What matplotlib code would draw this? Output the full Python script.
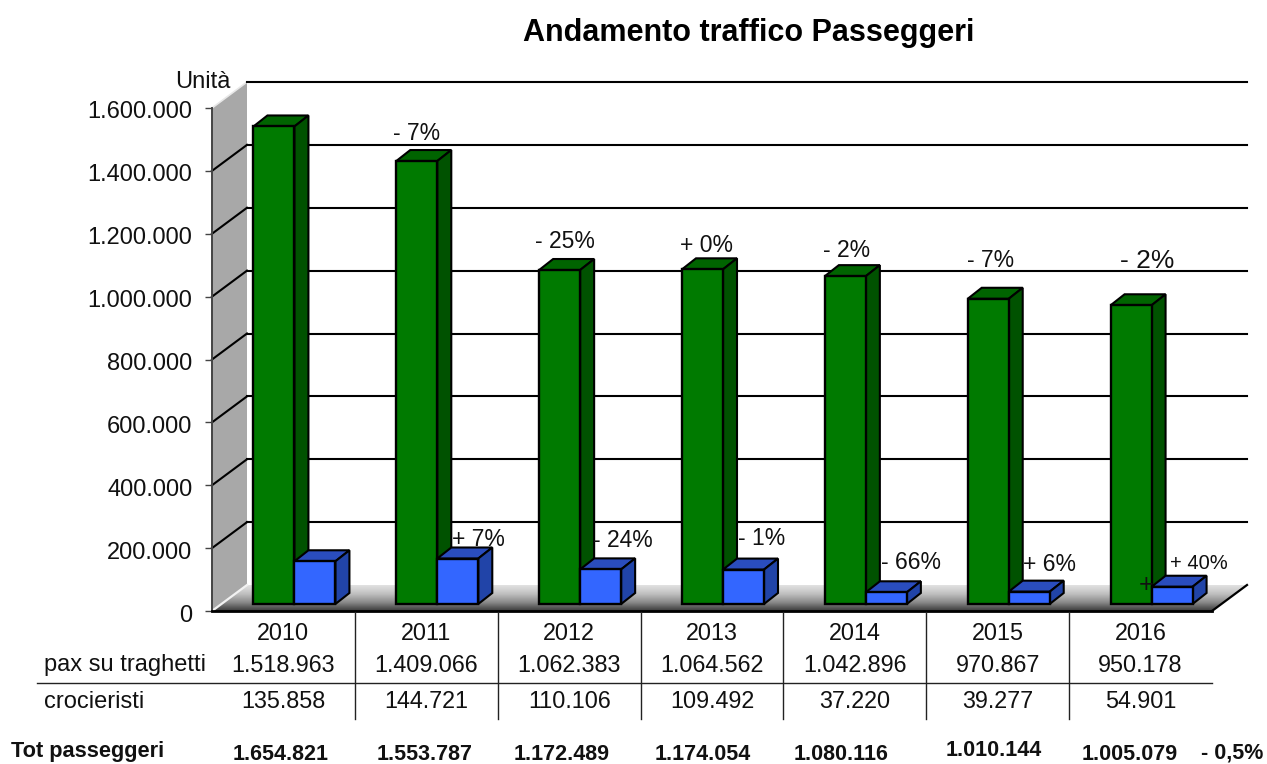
import numpy as np
import matplotlib
matplotlib.use("Agg")
import matplotlib.pyplot as plt
from matplotlib.colors import LinearSegmentedColormap
from matplotlib.patches import Polygon
from matplotlib.ticker import FuncFormatter
from matplotlib.transforms import Affine2D

plt.rcParams['font.family'] = ['Liberation Sans', 'DejaVu Sans']

years = [2010, 2011, 2012, 2013, 2014, 2015, 2016]
traghetti = [1518963, 1409066, 1062383, 1064562, 1042896, 970867, 950178]
crocieristi = [135858, 144721, 110106, 109492, 37220, 39277, 54901]
totali = [1654821, 1553787, 1172489, 1174054, 1080116, 1010144, 1005079]
var_traghetti = [None, "- 7%", "- 25%", "+ 0%", "- 2%", "- 7%", "- 2%"]
var_crocieristi = [None, "+ 7%", "- 24%", "- 1%", "- 66%", "+ 6%", "+ 40%"]
var_totale = "- 0,5%"
yticks = [0, 200000, 400000, 600000, 800000, 1000000, 1200000, 1400000, 1600000]

W, H = 1267, 764
LEFT, RIGHT, ZERO, TOP = 212, 1212, 611, 108
GREEN = ("#007A00", "#006400", "#005200")
BLUE = ("#3366FF", "#2A4DBE", "#2144A8")

# label placement by hand, pixels from the bar anchor (the original was hand placed too)
off_traghetti = [None, (-10, 35), (-4, 36), (-6, 31), (-8, 33), (-7, 45), (7, 51)]
off_crocieristi = [None, (52, 26), (54, 36), (50, 38), (56, 37), (52, 34), (58, 30)]
size_traghetti = [None, 16.5, 16.5, 16.5, 16.5, 16.5, 19]
size_crocieristi = [None, 16.5, 16.5, 16.5, 16.5, 16.5, 14.5]
tot_dx = [-3, -2, -8, -9, -14, -4, -11]
tot_y = [754, 755, 754, 755, 755, 750, 754]

fig = plt.figure(figsize=(W / 100, H / 100), dpi=100, facecolor="white")
ax = fig.add_axes([LEFT / W, 1 - ZERO / H, (RIGHT - LEFT) / W, (ZERO - TOP) / H])
ax.set_xlim(0, 7)
ax.set_ylim(0, 1600000)
ax.patch.set_visible(False)

# pixel sizes converted to data units
xpx = 7 / (RIGHT - LEFT)
ypx = 1600000 / (ZERO - TOP)


def ftext(px, py, s, **kw):
    kw.setdefault("ha", "center")
    kw.setdefault("va", "center")
    kw.setdefault("color", "#111111")
    fig.text(px / W, 1 - py / H, s, **kw)


def fline(xs, ys, **kw):
    fig.add_artist(plt.Line2D([x / W for x in xs], [1 - y / H for y in ys], color="#222222", lw=1.0, **kw))


def dotted(v):
    return f"{v:,}".replace(",", ".")


# walls and floor
bx, by = 35 * xpx, 26 * ypx
wall = Polygon([(0, 0), (bx, by), (bx, 1600000 + by), (0, 1600000)], closed=True, fc="#A8A8A8", ec="none", clip_on=False, zorder=1)
ax.add_patch(wall)
ax.plot([0, bx], [0, by], color="#F2F2F2", lw=1.6, clip_on=False, zorder=1.5)
ax.plot([0, bx], [1600000, 1600000 + by], color="#E8E8E8", lw=1.2, clip_on=False, zorder=1.5)

floor = Polygon([(0, 0), (7, 0), (7 + bx, by), (bx, by)], closed=True, fc="none", ec="none", clip_on=False, transform=ax.transData)
ax.add_patch(floor)
cmap = LinearSegmentedColormap.from_list("floor", ["#3a3a3a", "#8a8a8a", "#c0c0c0", "#e2e2e2"])
grad = ax.imshow(np.linspace(0, 1, 64)[:, None], extent=(0, 7 + bx, 0, by), origin="lower", cmap=cmap, aspect="auto", zorder=1.2)
grad.set_clip_box(fig.bbox)
grad.set_clip_path(floor)
ax.set_xlim(0, 7)
ax.set_ylim(0, 1600000)

# grid: slanted on the wall, straight on the back
for t in yticks[1:]:
    if t < 1600000:
        ax.plot([0, bx], [t, t + by], color="black", lw=1.5, clip_on=False, zorder=2)
    ax.plot([bx, 7 + bx], [t + by, t + by], color="black", lw=1.5, clip_on=False, zorder=2)

ax.plot([7, 7 + bx], [0, by], color="black", lw=1.6, clip_on=False, zorder=2)


def bar3d(x0, v, colors, z):
    w = 41 * xpx
    dx, dy = 14 * xpx, 11 * ypx
    base = 7 * ypx
    ax.bar(x0, v, w, bottom=base, align="edge", color=colors[0], edgecolor="black", linewidth=1.7, clip_on=False, zorder=z + 0.2)
    ax.add_patch(Polygon([(x0, base + v), (x0 + w, base + v), (x0 + w + dx, base + v + dy), (x0 + dx, base + v + dy)],
                         closed=True, fc=colors[1], ec="black", lw=1.5, clip_on=False, zorder=z))
    ax.add_patch(Polygon([(x0 + w, base), (x0 + w + dx, base + dy), (x0 + w + dx, base + v + dy), (x0 + w, base + v)],
                         closed=True, fc=colors[2], ec="black", lw=1.5, clip_on=False, zorder=z))


for i in range(len(years)):
    centre = i + 0.5 + 11 * xpx
    bar3d(centre - 41 * xpx, traghetti[i], GREEN, 3)
    bar3d(centre, crocieristi[i], BLUE, 4)

# percent labels
for i in range(1, len(years)):
    ax.annotate(var_traghetti[i], (i + 0.5, traghetti[i]), xytext=off_traghetti[i], textcoords="offset pixels",
                ha="center", va="center", fontsize=size_traghetti[i], color="#111111", zorder=6, annotation_clip=False)
    ax.annotate(var_crocieristi[i], (i + 0.5, crocieristi[i]), xytext=off_crocieristi[i], textcoords="offset pixels",
                ha="center", va="center", fontsize=size_crocieristi[i], color="#111111", zorder=6, annotation_clip=False)
ax.annotate("+", (6.5, crocieristi[6]), xytext=(5, 9), textcoords="offset pixels",
            ha="center", va="center", fontsize=18, color="#111111", zorder=6, annotation_clip=False)

# axes
for s in ("top", "right"):
    ax.spines[s].set_visible(False)
ax.spines["left"].set_color("#444444")
ax.spines["left"].set_linewidth(1.4)
ax.spines["left"].set_zorder(5)
ax.spines["bottom"].set_color("black")
ax.spines["bottom"].set_linewidth(2.0)
ax.spines["bottom"].set_zorder(5)
ax.set_xticks([])
ax.set_yticks(yticks)
ax.yaxis.set_major_formatter(FuncFormatter(lambda v, pos: dotted(int(v))))
ax.tick_params(axis="y", length=5, width=1, color="#444444", pad=9, labelsize=17, labelcolor="#111111")
for lbl in ax.get_yticklabels():
    lbl.set_transform(lbl.get_transform() + Affine2D().translate(0, -2))

ftext(749, 33, "Andamento traffico Passeggeri", fontsize=22, fontweight="bold", color="black")
ftext(203, 82, "Unità", fontsize=17)

# table under the chart
for i in range(1, len(years)):
    x = LEFT + i * (RIGHT - LEFT) / 7
    fline([x, x], [612, 719])
fline([37, RIGHT], [683, 683])

ftext(44, 665, "pax su traghetti", fontsize=17, ha="left")
ftext(44, 702, "crocieristi", fontsize=17, ha="left")
ftext(11, 752, "Tot passeggeri", fontsize=15.7, ha="left", fontweight="bold")
for i, y in enumerate(years):
    x = LEFT + (i + 0.5) * (RIGHT - LEFT) / 7
    ftext(x, 634, str(y), fontsize=16.8)
    ftext(x, 665, dotted(traghetti[i]), fontsize=16.8)
    ftext(x, 701, dotted(crocieristi[i]), fontsize=16.8)
    ftext(x + tot_dx[i], tot_y[i], dotted(totali[i]), fontsize=15.5, fontweight="bold")
ftext(1232, 753, var_totale, fontsize=15.5, fontweight="bold")

fig.savefig("out.png", dpi=100)
